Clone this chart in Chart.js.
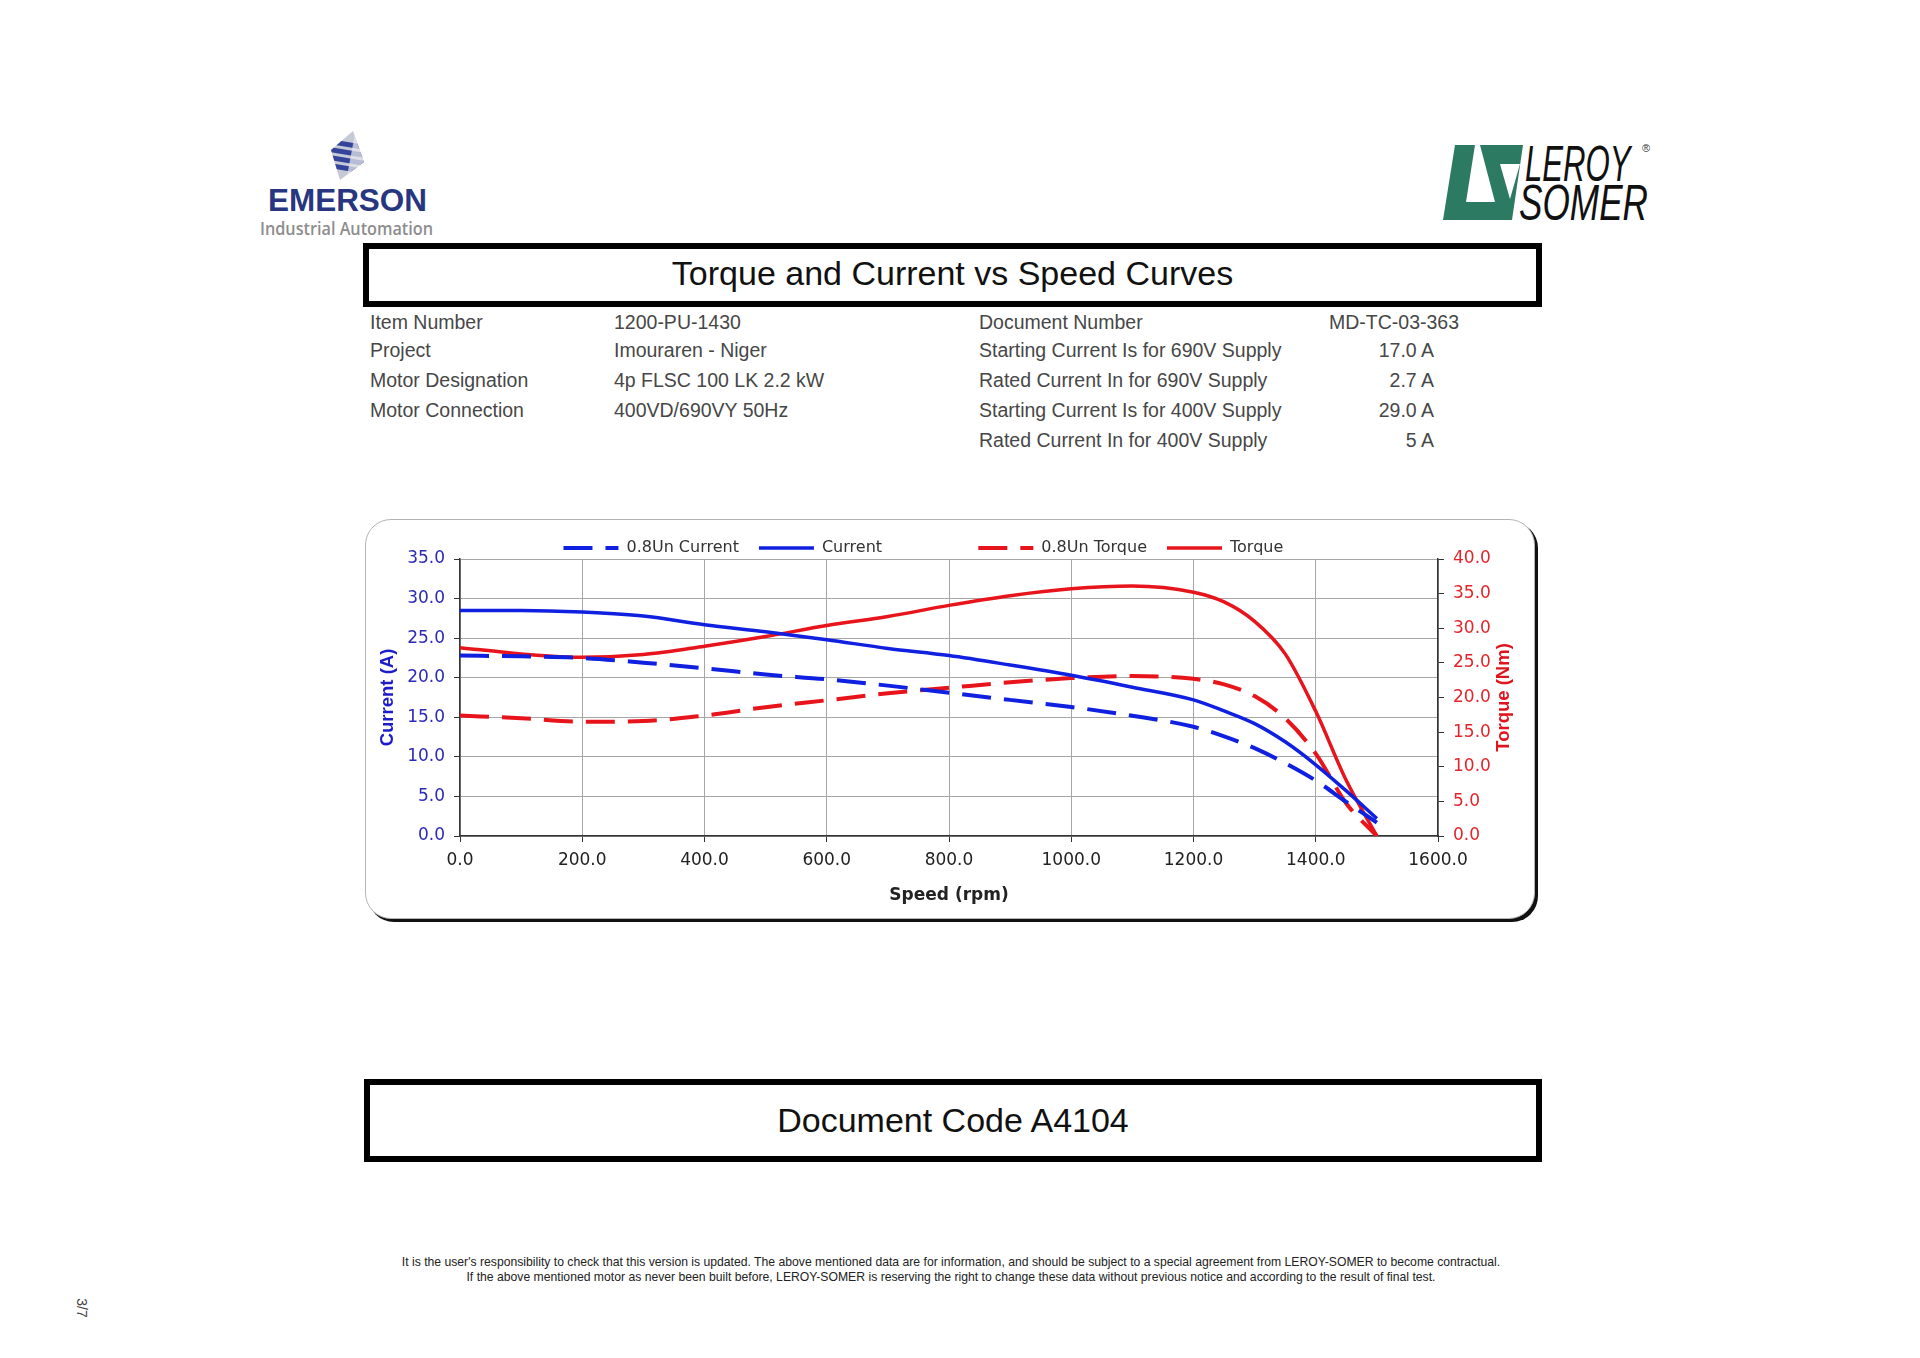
<!DOCTYPE html>
<html>
<head>
<meta charset="utf-8">
<script src="https://cdn.jsdelivr.net/npm/chart.js@4.4.1/dist/chart.umd.min.js"></script>
<style>
  body { margin: 0; width: 1920px; height: 1358px; background: #fff; position: relative; overflow: hidden;
         font-family: "Liberation Sans", Arial, sans-serif; }
  .abs { position: absolute; white-space: nowrap; }
  .box { position: absolute; box-sizing: border-box; border: 6px solid #000; text-align: center; color: #111; }
  .info { position: absolute; white-space: nowrap; font-size: 19.5px; line-height: 24px; color: #474747; }
  .num { text-align: right; right: 486px; }
  .foot { position: absolute; left: 0; width: 1902px; text-align: center; font-size: 12.2px; line-height: 16px; color: #222; white-space: nowrap; }
  #chartBox { position: absolute; left: 365px; top: 519px; width: 1170px; height: 400px; box-sizing: border-box;
              border: 1px solid #b4b4b4; border-radius: 26px; box-shadow: 3px 3px 0 #111; background: #fff; }
  #sc { position: absolute; left: 365px; top: 519px; }
</style>
</head>
<body>

<svg class="abs" style="left:0;top:0" width="1920" height="260">
  <defs>
    <clipPath id="dia"><polygon points="353,131 364,162 340,180 331,150"/></clipPath>
  </defs>
  <g clip-path="url(#dia)">
    <rect x="329" y="128" width="37" height="54" fill="#c6c9d6"/>
    <polygon points="329,139 366,145 366,150 329,144" fill="#34449a"/>
    <polygon points="329,147 366,153 366,158 329,152" fill="#34449a"/>
    <polygon points="329,155 366,161 366,166 329,160" fill="#34449a"/>
    <polygon points="329,163 366,169 366,174 329,168" fill="#34449a"/>
    <polygon points="356,128 366,128 366,182 346,182" fill="#e4e5ea" opacity="0.75"/>
  </g>
  <text font-family="Liberation Sans, Arial" fill="#27367f">
    <tspan x="268" y="210.5" font-weight="bold" font-size="31.5" textLength="159" lengthAdjust="spacingAndGlyphs">EMERSON</tspan>
    <tspan x="260" y="235" font-family="Open Sans" font-weight="600" font-size="18" fill="#8d8d8d" textLength="173" lengthAdjust="spacingAndGlyphs">Industrial Automation</tspan>
  </text>

  <g transform="translate(1430,135)">
    <polygon points="25,10 93,10 82,85 13,85" fill="#2d7a62"/>
    <polygon points="45,10 50,10 65,67 36,67" fill="#fff"/>
    <polygon points="70,29 90,29 80,64" fill="#fff"/>
    <text font-family="Liberation Sans Narrow, Liberation Sans" font-style="italic" font-size="50" fill="#111">
      <tspan x="95" y="46" textLength="105" lengthAdjust="spacingAndGlyphs">LEROY</tspan>
      <tspan x="89" y="85" textLength="129" lengthAdjust="spacingAndGlyphs">SOMER</tspan>
      <tspan x="212" y="17" font-size="11" font-style="normal" fill="#333">®</tspan>
    </text>
  </g>
</svg>

<div class="box" style="left:363px;top:243px;width:1179px;height:64px;font-size:34px;line-height:48px;">Torque and Current vs Speed Curves</div>

<div class="info" style="left:370px;top:310px">Item Number</div>
<div class="info" style="left:370px;top:338px">Project</div>
<div class="info" style="left:370px;top:368px">Motor Designation</div>
<div class="info" style="left:370px;top:398px">Motor Connection</div>

<div class="info" style="left:614px;top:310px">1200-PU-1430</div>
<div class="info" style="left:614px;top:338px">Imouraren - Niger</div>
<div class="info" style="left:614px;top:368px">4p FLSC 100 LK 2.2 kW</div>
<div class="info" style="left:614px;top:398px">400VD/690VY 50Hz</div>

<div class="info" style="left:979px;top:310px">Document Number</div>
<div class="info" style="left:979px;top:338px">Starting Current Is for 690V Supply</div>
<div class="info" style="left:979px;top:368px">Rated Current In for 690V Supply</div>
<div class="info" style="left:979px;top:398px">Starting Current Is for 400V Supply</div>
<div class="info" style="left:979px;top:428px">Rated Current In for 400V Supply</div>

<div class="info" style="left:1329px;top:310px">MD-TC-03-363</div>
<div class="info num" style="top:338px">17.0 A</div>
<div class="info num" style="top:368px">2.7 A</div>
<div class="info num" style="top:398px">29.0 A</div>
<div class="info num" style="top:428px">5 A</div>

<div id="chartBox"></div>
<canvas id="sc" width="1172" height="402"></canvas>

<div class="box" style="left:364px;top:1079px;width:1178px;height:83px;font-size:34px;line-height:71px;">Document Code A4104</div>

<div class="foot" style="top:1254px">It is the user's responsibility to check that this version is updated. The above mentioned data are for information, and should be subject to a special agreement from LEROY-SOMER to become contractual.</div>
<div class="foot" style="top:1269px">If the above mentioned motor as never been built before, LEROY-SOMER is reserving the right to change these data without previous notice and according to the result of final test.</div>

<div class="abs" style="left:64px;top:1300px;width:36px;height:16px;line-height:16px;text-align:center;font-size:14px;color:#444;transform:rotate(90deg);">3/7</div>

<script>
const SPEED = [0, 100, 200, 300, 400, 500, 600, 700, 800, 900, 1000, 1100, 1200, 1250, 1300, 1350, 1400, 1450, 1500];
const CURRENT_08UN = [22.8, 22.7, 22.5, 21.9, 21.2, 20.4, 19.8, 19.0, 18.1, 17.2, 16.3, 15.2, 13.8, 12.6, 11.1, 9.2, 7.0, 4.3, 1.7];
const CURRENT = [28.5, 28.5, 28.3, 27.8, 26.7, 25.8, 24.8, 23.7, 22.8, 21.6, 20.3, 18.8, 17.2, 15.8, 14.2, 11.9, 9.0, 5.7, 2.2];
const TORQUE_08UN = [17.4, 17.0, 16.5, 16.6, 17.4, 18.6, 19.6, 20.6, 21.4, 22.2, 22.8, 23.1, 22.7, 21.9, 20.2, 17.0, 11.9, 4.7, 0];
const TORQUE = [27.2, 26.3, 25.8, 26.2, 27.4, 28.8, 30.4, 31.7, 33.3, 34.7, 35.7, 36.1, 35.2, 33.8, 31.0, 26.3, 18.0, 8.0, 0];

const BLUE = "#1020e0";
const RED = "#e8141c";
const DASH = [29, 13];

function points(values) {
    return SPEED.map((s, i) => ({ x: s, y: values[i] }));
}

function series(label, values, color, axis, dashed) {
    return {
        label,
        data: points(values),
        yAxisID: axis,
        borderColor: color,
        backgroundColor: color,
        borderWidth: dashed ? 4 : 3.5,
        borderDash: dashed ? DASH : [],
        pointRadius: 0,
        cubicInterpolationMode: "monotone",
        fill: false
    };
}

// right axis title reads bottom-to-top like the left one
const torqueTitle = {
    id: "torqueTitle",
    afterDraw(chart) {
        const { ctx, chartArea } = chart;
        ctx.save();
        ctx.translate(chartArea.right + 66, (chartArea.top + chartArea.bottom) / 2);
        ctx.rotate(-Math.PI / 2);
        ctx.font = "bold 18.5px 'Liberation Sans'";
        ctx.fillStyle = "#e0141c";
        ctx.textAlign = "center";
        ctx.textBaseline = "middle";
        ctx.fillText("Torque (Nm)", 0, 0);
        ctx.restore();
    }
};

function renderChart() {
    Chart.defaults.font.family = "'DejaVu Sans'";
    const ctx = document.getElementById("sc").getContext("2d");
    const grid = { color: "#a6a6a6", lineWidth: 1, tickLength: 6, tickColor: "#333" };
    const border = { color: "#333", width: 1.5 };
    const fmt = v => Number(v).toFixed(1);

    new Chart(ctx, {
        type: "line",
        data: {
            datasets: [
                series("0.8Un Current", CURRENT_08UN, BLUE, "yA", true),
                series("Current", CURRENT, BLUE, "yA", false),
                series("0.8Un Torque", TORQUE_08UN, RED, "yT", true),
                series("Torque", TORQUE, RED, "yT", false)
            ]
        },
        options: {
            responsive: false,
            animation: false,
            layout: { padding: { top: 1, right: 40, left: 0, bottom: 0 } },
            scales: {
                x: {
                    type: "linear", min: 0, max: 1600,
                    ticks: { stepSize: 200, callback: fmt, color: "#222", font: { size: 17 }, padding: 8 },
                    grid, border,
                    title: { display: true, text: "Speed (rpm)", color: "#222", font: { size: 17, weight: "bold" }, padding: { top: 0, bottom: 15 } },
                    afterFit: s => { s.height = 85; }
                },
                yA: {
                    position: "left", min: 0, max: 35,
                    ticks: { stepSize: 5, callback: fmt, color: "#2b2bb8", font: { size: 17 }, padding: 9 },
                    grid, border,
                    title: { display: true, text: "Current (A)", color: "#1c1cc8", font: { family: "'Liberation Sans'", size: 18.5, weight: "bold" }, padding: { top: 12, bottom: 0 } },
                    afterFit: s => { s.width = 95; }
                },
                yT: {
                    position: "right", min: 0, max: 40,
                    ticks: { stepSize: 5, callback: fmt, color: "#e3262c", font: { size: 17 }, padding: 9 },
                    grid: { drawOnChartArea: false, tickLength: 6, tickColor: "#333" },
                    border,
                    afterFit: s => { s.width = 59; }
                }
            },
            plugins: {
                tooltip: { enabled: false },
                legend: {
                    position: "top",
                    maxHeight: 39,
                    labels: {
                        usePointStyle: true,
                        pointStyle: "line",
                        pointStyleWidth: 55,
                        padding: 20,
                        color: "#333",
                        font: { size: 16 },
                        generateLabels(chart) {
                            const items = Chart.defaults.plugins.legend.labels.generateLabels(chart);
                            items.forEach((item, i) => {
                                const ds = chart.data.datasets[i];
                                item.lineDash = ds.borderDash;
                                item.lineWidth = ds.borderWidth;
                                item.lineCap = "butt";
                            });
                            // spacing of the original legend entries
                            items[1].text += " ".repeat(15);
                            items[3].text += " ".repeat(3);
                            return items;
                        }
                    }
                }
            }
        },
        plugins: [torqueTitle]
    });
}

renderChart();
</script>
</body>
</html>
